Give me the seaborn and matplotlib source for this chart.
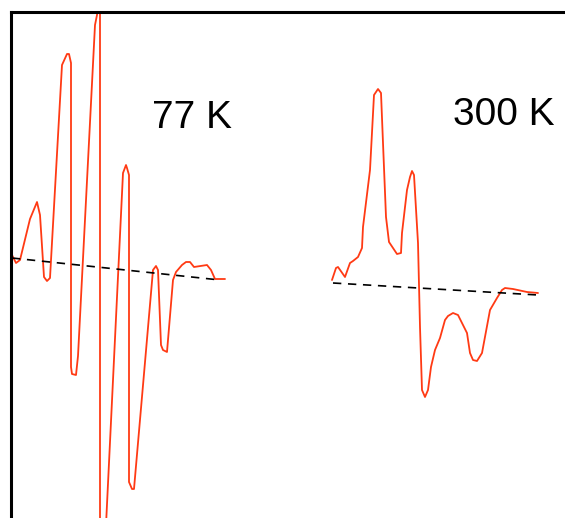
import numpy as np
import pandas as pd
import matplotlib
matplotlib.use("Agg")
import matplotlib.pyplot as plt
import seaborn as sns

# Spectrum at 77 K (field in arbitrary units, signal in arbitrary units)
field_77 = [12, 16, 20, 30, 37, 40, 44, 47, 50, 62, 67, 69, 71, 71, 72, 76, 78,
            95, 97, 100, 100, 103, 106, 123, 126, 127, 129, 129, 132, 134,
            153, 156, 158, 161, 163, 167, 173, 176, 182, 186, 190, 194,
            207, 211, 215, 225]
signal_77 = [25, 17, 20, 61, 78, 65, 3, -1, 2, 215, 226, 226, 217, -87, -94, -95, -76,
             255, 265, 290, -260, -265, -245, 107, 115, 112, 105, -202, -209, -209,
             10, 14, 10, -65, -70, -72, 0, 8, 15, 18, 18, 13,
             15, 10, 1, 1]

# Spectrum at 300 K
field_300 = [332, 336, 338, 345, 350, 353, 358, 362, 363, 370, 374, 378, 381, 383,
             386, 389, 393, 397, 401, 402, 407, 410, 412, 414, 418, 420, 422, 425,
             428, 431, 435, 440, 445, 448, 453, 458, 467, 470, 473, 477, 482, 490,
             497, 502, 505, 513, 527, 538]
signal_300 = [0, 12, 13, 3, 17, 19, 23, 32, 53, 110, 185, 191, 187, 137,
              63, 38, 32, 26, 27, 47, 90, 103, 109, 105, 37, -47, -110, -117,
              -110, -87, -70, -58, -40, -36, -33, -35, -53, -73, -80, -81, -73, -30,
              -18, -10, -8, -9, -12, -13]

# Baselines
base_77_x = [12, 220]
base_77_y = [22, 0]
base_300_x = [333, 538]
base_300_y = [-3, -15]

labels = ["77 K", "300 K"]

sns.set_style("white")
plt.rcParams['font.family'] = ['Liberation Sans', 'DejaVu Sans']

fig = plt.figure(figsize=(5.65, 5.18), dpi=100)
# axes run past the right and bottom edges of the figure
ax = fig.add_axes([11 / 565, -40 / 518, 600 / 565, 546 / 518])

red = "#FF3A14"
df77 = pd.DataFrame({"field": field_77, "signal": signal_77})
df300 = pd.DataFrame({"field": field_300, "signal": signal_300})
# estimator=None so repeated field values are drawn as-is (vertical drops)
sns.lineplot(data=df77, x="field", y="signal", sort=False, estimator=None,
             color=red, lw=1.3, ax=ax)
sns.lineplot(data=df300, x="field", y="signal", sort=False, estimator=None,
             color=red, lw=1.3, ax=ax)
ax.plot(base_77_x, base_77_y, color="black", lw=1.2, linestyle=(0, (5, 4)))
ax.plot(base_300_x, base_300_y, color="black", lw=1.2, linestyle=(0, (5, 4)))

ax.text(152, 152, labels[0], fontsize=28, color="black", ha="left", va="baseline")
ax.text(453, 155, labels[1], fontsize=28, color="black", ha="left", va="baseline")

ax.set_xlim(11, 611)
ax.set_ylim(-278, 268)
ax.set_xticks([])
ax.set_yticks([])
ax.set_xlabel("")
ax.set_ylabel("")
for side in ["right", "bottom"]:
    ax.spines[side].set_visible(False)
for side in ["left", "top"]:
    ax.spines[side].set_color("black")
    ax.spines[side].set_linewidth(2.2)

fig.savefig("out.png", dpi=100)
